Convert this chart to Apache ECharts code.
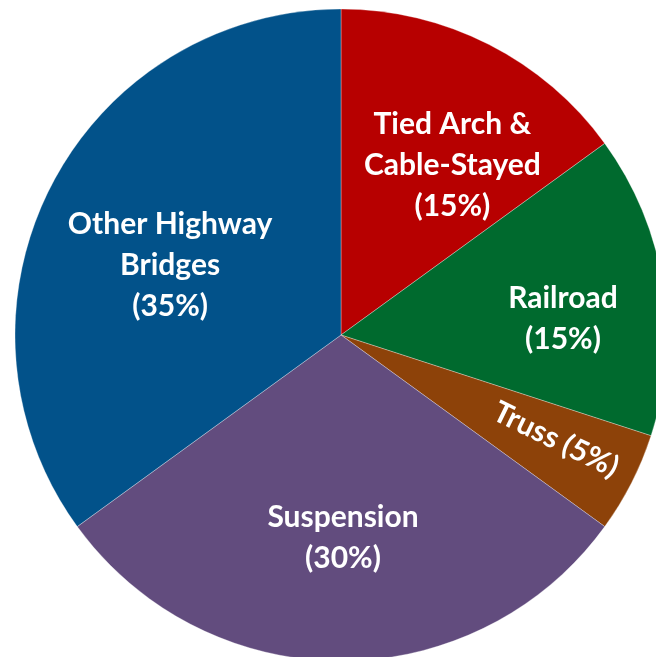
<!DOCTYPE html>
<html>
<head>
<meta charset="utf-8">
<script src="https://cdn.jsdelivr.net/npm/echarts@6/dist/echarts.min.js"></script>
<style>html,body{margin:0;padding:0;background:#fff}#c{width:656px;height:657px}</style>
</head>
<body>
<div id="c"></div>
<script>
const categories = ['Tied Arch &\nCable-Stayed', 'Railroad', 'Truss', 'Suspension', 'Other Highway\nBridges'];
const values = [15, 15, 5, 30, 35];
const colors = ['#B70000', '#006A2E', '#8D4209', '#624C7E', '#02528A'];
const labelOffsets = [[36, -22], [58, 10], [73, -3], [2, 37], [-23, 6]];
const labelRotate = [0, 0, -26, 0, 0];
const labelSep = ['\n', '\n', ' ', '\n', '\n'];

const chart = echarts.init(document.getElementById('c'), null, {renderer: 'canvas'});
const labelFont = {
  color: '#ffffff',
  fontFamily: 'Lato',
  fontWeight: 'bold',
  fontSize: 30,
  lineHeight: 41,
  align: 'center'
};
chart.setOption({
  backgroundColor: '#ffffff',
  animation: false,
  series: [{
    type: 'pie',
    center: [341, 335],
    radius: [0, 326],
    startAngle: 90,
    clockwise: true,
    avoidLabelOverlap: false,
    itemStyle: {borderColor: 'rgba(255,255,255,0.5)', borderWidth: 0.6},
    label: Object.assign({show: true, position: 'inside'}, labelFont),
    labelLine: {show: false},
    labelLayout: function (p) {
      const o = labelOffsets[p.dataIndex];
      return {dx: o[0], dy: o[1]};
    },
    data: categories.map((c, i) => ({
      name: c,
      value: values[i],
      itemStyle: {color: colors[i]},
      label: Object.assign({
        formatter: c + labelSep[i] + '(' + values[i] + '%)',
        rotate: labelRotate[i]
      }, labelFont)
    }))
  }]
});
</script>
</body>
</html>
